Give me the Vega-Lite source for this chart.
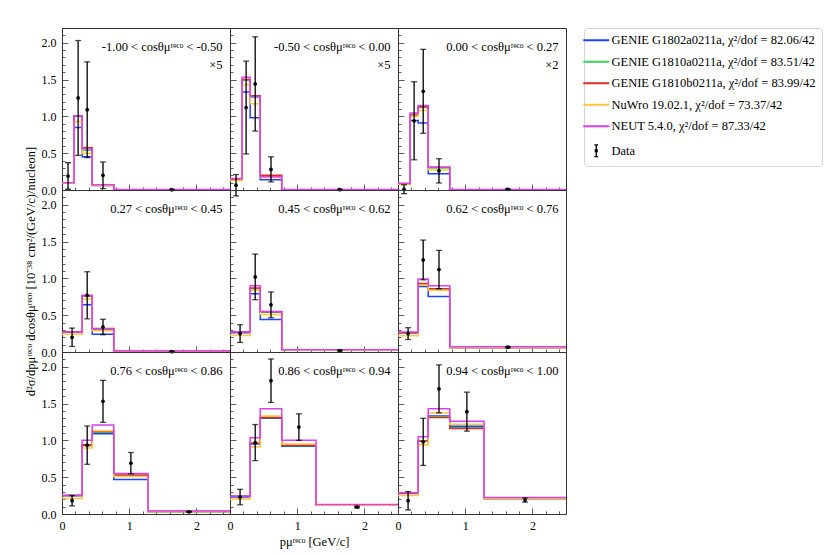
{
  "$schema": "https://vega.github.io/schema/vega-lite/v6.json",
  "padding": {"left": 23, "top": 27, "right": 5, "bottom": 5},
  "background": "white",
  "data": {"values": [
    {"k": "mc", "p": 1, "m": "m1", "e": [0, 0.18, 0.3, 0.45, 0.77, 2.5], "v": [0.09, 0.85, 0.45, 0.06, 0.005, 0.005]},
    {"k": "mc", "p": 1, "m": "m2", "e": [0, 0.18, 0.3, 0.45, 0.77, 2.5], "v": [0.10, 1.00, 0.54, 0.065, 0.005, 0.005]},
    {"k": "mc", "p": 1, "m": "m3", "e": [0, 0.18, 0.3, 0.45, 0.77, 2.5], "v": [0.10, 1.01, 0.575, 0.065, 0.005, 0.005]},
    {"k": "mc", "p": 1, "m": "m4", "e": [0, 0.18, 0.3, 0.45, 0.77, 2.5], "v": [0.09, 0.93, 0.50, 0.06, 0.005, 0.005]},
    {"k": "mc", "p": 1, "m": "m5", "e": [0, 0.18, 0.3, 0.45, 0.77, 2.5], "v": [0.10, 1.01, 0.56, 0.07, 0.006, 0.006]},
    {"k": "mc", "p": 2, "m": "m1", "e": [0, 0.18, 0.3, 0.45, 0.77, 2.5], "v": [0.14, 1.33, 0.98, 0.14, 0.005, 0.005]},
    {"k": "mc", "p": 2, "m": "m2", "e": [0, 0.18, 0.3, 0.45, 0.77, 2.5], "v": [0.15, 1.49, 1.26, 0.19, 0.005, 0.005]},
    {"k": "mc", "p": 2, "m": "m3", "e": [0, 0.18, 0.3, 0.45, 0.77, 2.5], "v": [0.15, 1.50, 1.28, 0.20, 0.005, 0.005]},
    {"k": "mc", "p": 2, "m": "m4", "e": [0, 0.18, 0.3, 0.45, 0.77, 2.5], "v": [0.13, 1.43, 1.17, 0.17, 0.005, 0.005]},
    {"k": "mc", "p": 2, "m": "m5", "e": [0, 0.18, 0.3, 0.45, 0.77, 2.5], "v": [0.155, 1.53, 1.27, 0.18, 0.006, 0.006]},
    {"k": "mc", "p": 3, "m": "m1", "e": [0, 0.18, 0.3, 0.45, 0.77, 2.5], "v": [0.08, 0.945, 0.91, 0.22, 0.005, 0.005]},
    {"k": "mc", "p": 3, "m": "m2", "e": [0, 0.18, 0.3, 0.45, 0.77, 2.5], "v": [0.085, 1.01, 1.12, 0.30, 0.005, 0.005]},
    {"k": "mc", "p": 3, "m": "m3", "e": [0, 0.18, 0.3, 0.45, 0.77, 2.5], "v": [0.085, 1.02, 1.13, 0.31, 0.005, 0.005]},
    {"k": "mc", "p": 3, "m": "m4", "e": [0, 0.18, 0.3, 0.45, 0.77, 2.5], "v": [0.08, 1.00, 1.08, 0.27, 0.005, 0.005]},
    {"k": "mc", "p": 3, "m": "m5", "e": [0, 0.18, 0.3, 0.45, 0.77, 2.5], "v": [0.09, 1.045, 1.146, 0.31, 0.006, 0.006]},
    {"k": "mc", "p": 4, "m": "m1", "e": [0, 0.3, 0.45, 0.77, 2.5], "v": [0.27, 0.64, 0.24, 0.01, 0.01]},
    {"k": "mc", "p": 4, "m": "m2", "e": [0, 0.3, 0.45, 0.77, 2.5], "v": [0.27, 0.76, 0.31, 0.01, 0.01]},
    {"k": "mc", "p": 4, "m": "m3", "e": [0, 0.3, 0.45, 0.77, 2.5], "v": [0.27, 0.765, 0.32, 0.01, 0.01]},
    {"k": "mc", "p": 4, "m": "m4", "e": [0, 0.3, 0.45, 0.77, 2.5], "v": [0.24, 0.72, 0.29, 0.01, 0.01]},
    {"k": "mc", "p": 4, "m": "m5", "e": [0, 0.3, 0.45, 0.77, 2.5], "v": [0.27, 0.77, 0.315, 0.012, 0.012]},
    {"k": "mc", "p": 5, "m": "m1", "e": [0, 0.3, 0.45, 0.77, 2.5], "v": [0.26, 0.79, 0.44, 0.025, 0.025]},
    {"k": "mc", "p": 5, "m": "m2", "e": [0, 0.3, 0.45, 0.77, 2.5], "v": [0.27, 0.86, 0.54, 0.025, 0.025]},
    {"k": "mc", "p": 5, "m": "m3", "e": [0, 0.3, 0.45, 0.77, 2.5], "v": [0.27, 0.87, 0.545, 0.025, 0.025]},
    {"k": "mc", "p": 5, "m": "m4", "e": [0, 0.3, 0.45, 0.77, 2.5], "v": [0.225, 0.84, 0.51, 0.025, 0.025]},
    {"k": "mc", "p": 5, "m": "m5", "e": [0, 0.3, 0.45, 0.77, 2.5], "v": [0.27, 0.90, 0.55, 0.03, 0.03]},
    {"k": "mc", "p": 6, "m": "m1", "e": [0, 0.3, 0.45, 0.77, 2.5], "v": [0.26, 0.89, 0.755, 0.06, 0.06]},
    {"k": "mc", "p": 6, "m": "m2", "e": [0, 0.3, 0.45, 0.77, 2.5], "v": [0.26, 0.92, 0.85, 0.06, 0.06]},
    {"k": "mc", "p": 6, "m": "m3", "e": [0, 0.3, 0.45, 0.77, 2.5], "v": [0.26, 0.93, 0.86, 0.06, 0.06]},
    {"k": "mc", "p": 6, "m": "m4", "e": [0, 0.3, 0.45, 0.77, 2.5], "v": [0.22, 0.91, 0.84, 0.06, 0.06]},
    {"k": "mc", "p": 6, "m": "m5", "e": [0, 0.3, 0.45, 0.77, 2.5], "v": [0.27, 0.99, 0.90, 0.07, 0.07]},
    {"k": "mc", "p": 7, "m": "m1", "e": [0, 0.3, 0.45, 0.77, 1.28, 2.5], "v": [0.25, 0.93, 1.09, 0.47, 0.035, 0.035]},
    {"k": "mc", "p": 7, "m": "m2", "e": [0, 0.3, 0.45, 0.77, 1.28, 2.5], "v": [0.25, 0.94, 1.11, 0.52, 0.035, 0.035]},
    {"k": "mc", "p": 7, "m": "m3", "e": [0, 0.3, 0.45, 0.77, 1.28, 2.5], "v": [0.25, 0.94, 1.12, 0.53, 0.035, 0.035]},
    {"k": "mc", "p": 7, "m": "m4", "e": [0, 0.3, 0.45, 0.77, 1.28, 2.5], "v": [0.21, 0.895, 1.13, 0.51, 0.035, 0.035]},
    {"k": "mc", "p": 7, "m": "m5", "e": [0, 0.3, 0.45, 0.77, 1.28, 2.5], "v": [0.25, 1.0, 1.21, 0.55, 0.04, 0.04]},
    {"k": "mc", "p": 8, "m": "m1", "e": [0, 0.3, 0.45, 0.77, 1.28, 2.5], "v": [0.23, 0.95, 1.30, 0.92, 0.12, 0.12]},
    {"k": "mc", "p": 8, "m": "m2", "e": [0, 0.3, 0.45, 0.77, 1.28, 2.5], "v": [0.24, 0.96, 1.31, 0.93, 0.12, 0.12]},
    {"k": "mc", "p": 8, "m": "m3", "e": [0, 0.3, 0.45, 0.77, 1.28, 2.5], "v": [0.24, 0.96, 1.31, 0.935, 0.12, 0.12]},
    {"k": "mc", "p": 8, "m": "m4", "e": [0, 0.3, 0.45, 0.77, 1.28, 2.5], "v": [0.20, 0.91, 1.33, 0.95, 0.12, 0.12]},
    {"k": "mc", "p": 8, "m": "m5", "e": [0, 0.3, 0.45, 0.77, 1.28, 2.5], "v": [0.24, 1.035, 1.43, 1.0, 0.13, 0.13]},
    {"k": "mc", "p": 9, "m": "m1", "e": [0, 0.3, 0.45, 0.77, 1.28, 2.5], "v": [0.28, 0.99, 1.33, 1.19, 0.21, 0.21]},
    {"k": "mc", "p": 9, "m": "m2", "e": [0, 0.3, 0.45, 0.77, 1.28, 2.5], "v": [0.285, 0.99, 1.32, 1.17, 0.21, 0.21]},
    {"k": "mc", "p": 9, "m": "m3", "e": [0, 0.3, 0.45, 0.77, 1.28, 2.5], "v": [0.285, 0.99, 1.31, 1.16, 0.21, 0.21]},
    {"k": "mc", "p": 9, "m": "m4", "e": [0, 0.3, 0.45, 0.77, 1.28, 2.5], "v": [0.25, 0.94, 1.37, 1.22, 0.21, 0.21]},
    {"k": "mc", "p": 9, "m": "m5", "e": [0, 0.3, 0.45, 0.77, 1.28, 2.5], "v": [0.29, 1.05, 1.43, 1.26, 0.225, 0.225]},
    {"k": "data", "p": 1, "x": 0.09, "y": 0.19, "err": 0.18},
    {"k": "data", "p": 1, "x": 0.24, "y": 1.25, "err": 0.78},
    {"k": "data", "p": 1, "x": 0.375, "y": 1.09, "err": 0.65},
    {"k": "data", "p": 1, "x": 0.61, "y": 0.2, "err": 0.18},
    {"k": "data", "p": 1, "x": 1.635, "y": 0.003, "err": 0.005},
    {"k": "data", "p": 2, "x": 0.09, "y": 0.065, "err": 0.145},
    {"k": "data", "p": 2, "x": 0.24, "y": 1.12, "err": 0.63},
    {"k": "data", "p": 2, "x": 0.375, "y": 1.44, "err": 0.64},
    {"k": "data", "p": 2, "x": 0.61, "y": 0.28, "err": 0.17},
    {"k": "data", "p": 2, "x": 1.635, "y": 0.004, "err": 0.005},
    {"k": "data", "p": 3, "x": 0.09, "y": 0.01, "err": 0.06},
    {"k": "data", "p": 3, "x": 0.24, "y": 0.94, "err": 0.53},
    {"k": "data", "p": 3, "x": 0.375, "y": 1.34, "err": 0.57},
    {"k": "data", "p": 3, "x": 0.61, "y": 0.26, "err": 0.165},
    {"k": "data", "p": 3, "x": 1.635, "y": 0.01, "err": 0.005},
    {"k": "data", "p": 4, "x": 0.15, "y": 0.2, "err": 0.125},
    {"k": "data", "p": 4, "x": 0.375, "y": 0.77, "err": 0.32},
    {"k": "data", "p": 4, "x": 0.61, "y": 0.34, "err": 0.105},
    {"k": "data", "p": 4, "x": 1.635, "y": 0.005, "err": 0.004},
    {"k": "data", "p": 5, "x": 0.15, "y": 0.25, "err": 0.12},
    {"k": "data", "p": 5, "x": 0.375, "y": 1.02, "err": 0.31},
    {"k": "data", "p": 5, "x": 0.61, "y": 0.64, "err": 0.175},
    {"k": "data", "p": 5, "x": 1.635, "y": 0.02, "err": 0.008},
    {"k": "data", "p": 6, "x": 0.15, "y": 0.25, "err": 0.08},
    {"k": "data", "p": 6, "x": 0.375, "y": 1.25, "err": 0.27},
    {"k": "data", "p": 6, "x": 0.61, "y": 1.12, "err": 0.26},
    {"k": "data", "p": 6, "x": 1.635, "y": 0.065, "err": 0.01},
    {"k": "data", "p": 7, "x": 0.15, "y": 0.18, "err": 0.07},
    {"k": "data", "p": 7, "x": 0.375, "y": 0.935, "err": 0.26},
    {"k": "data", "p": 7, "x": 0.61, "y": 1.53, "err": 0.285},
    {"k": "data", "p": 7, "x": 1.025, "y": 0.69, "err": 0.145},
    {"k": "data", "p": 7, "x": 1.89, "y": 0.03, "err": 0.006},
    {"k": "data", "p": 8, "x": 0.15, "y": 0.23, "err": 0.105},
    {"k": "data", "p": 8, "x": 0.375, "y": 0.97, "err": 0.245},
    {"k": "data", "p": 8, "x": 0.61, "y": 1.81, "err": 0.295},
    {"k": "data", "p": 8, "x": 1.025, "y": 1.18, "err": 0.18},
    {"k": "data", "p": 8, "x": 1.89, "y": 0.095, "err": 0.01},
    {"k": "data", "p": 9, "x": 0.15, "y": 0.18, "err": 0.125},
    {"k": "data", "p": 9, "x": 0.375, "y": 0.98, "err": 0.32},
    {"k": "data", "p": 9, "x": 0.61, "y": 1.70, "err": 0.325},
    {"k": "data", "p": 9, "x": 1.025, "y": 1.39, "err": 0.265},
    {"k": "data", "p": 9, "x": 1.89, "y": 0.19, "err": 0.03},
    {"k": "lab", "p": 1, "t": "-1.00 < cosθμʳᵉᶜᵒ < -0.50", "s": "×5"},
    {"k": "lab", "p": 2, "t": "-0.50 < cosθμʳᵉᶜᵒ < 0.00", "s": "×5"},
    {"k": "lab", "p": 3, "t": "0.00 < cosθμʳᵉᶜᵒ < 0.27", "s": "×2"},
    {"k": "lab", "p": 4, "t": "0.27 < cosθμʳᵉᶜᵒ < 0.45", "s": ""},
    {"k": "lab", "p": 5, "t": "0.45 < cosθμʳᵉᶜᵒ < 0.62", "s": ""},
    {"k": "lab", "p": 6, "t": "0.62 < cosθμʳᵉᶜᵒ < 0.76", "s": ""},
    {"k": "lab", "p": 7, "t": "0.76 < cosθμʳᵉᶜᵒ < 0.86", "s": ""},
    {"k": "lab", "p": 8, "t": "0.86 < cosθμʳᵉᶜᵒ < 0.94", "s": ""},
    {"k": "lab", "p": 9, "t": "0.94 < cosθμʳᵉᶜᵒ < 1.00", "s": ""}
  ]},
  "columns": 3,
  "spacing": 0,
  "bounds": "flush",
  "concat": [
    {"width": 168, "height": 162, "transform": [{"filter": "datum.p == 1"}], "resolve": {"axis": {"x": "independent", "y": "independent"}}, "layer": [
      {"transform": [{"filter": "datum.k == 'mc'"}, {"flatten": ["e", "v"]}], "mark": {"type": "line", "interpolate": "step-after", "strokeWidth": 1.5},
        "encoding": {
          "x": {"field": "e", "type": "quantitative", "title": null, "scale": {"domain": [0, 2.5], "nice": false}, "axis": {"orient": "bottom", "values": [0, 1, 2], "tickSize": -6, "labels": false}},
          "y": {"field": "v", "type": "quantitative", "title": null, "scale": {"domain": [0, 2.2], "nice": false}, "axis": {"orient": "left", "values": [0, 0.5, 1, 1.5, 2], "tickSize": -6, "format": ".1f"}},
          "color": {"field": "m", "type": "nominal", "scale": {"domain": ["m1", "m2", "m3", "m4", "m5", "m6"]},
            "legend": {"title": null, "offset": 14, "padding": 6, "cornerRadius": 3, "strokeColor": "#d4d4d4", "symbolType": "stroke", "symbolSize": 676, "symbolStrokeWidth": 2, "labelFontSize": 12.5, "labelOffset": 9, "labelLimit": 400, "rowPadding": 8.5,
              "labelExpr": "datum.value == 'm1' ? 'GENIE G1802a0211a, χ²/dof = 82.06/42' : datum.value == 'm2' ? 'GENIE G1810a0211a, χ²/dof = 83.51/42' : datum.value == 'm3' ? 'GENIE G1810b0211a, χ²/dof = 83.99/42' : datum.value == 'm4' ? 'NuWro 19.02.1, χ²/dof = 73.37/42' : datum.value == 'm5' ? 'NEUT 5.4.0, χ²/dof = 87.33/42' : 'Data'",
              "encode": {"symbols": {"update": {
                "shape": {"signal": "datum.value == 'm6' ? 'M0,-0.45V0.45M-0.15,-0.45H0.15M-0.15,0.45H0.15M-0.07,-0.07H0.07V0.07H-0.07Z' : 'stroke'"},
                "fill": {"signal": "datum.value == 'm6' ? 'black' : 'transparent'"},
                "strokeWidth": {"signal": "datum.value == 'm6' ? 1.3 : 2"}}}}}}
        }},
      {"transform": [{"filter": "datum.k == 'data'"}], "mark": {"type": "errorbar", "color": "black", "thickness": 1.3, "ticks": {"size": 6}},
        "encoding": {"x": {"field": "x", "type": "quantitative", "title": null, "axis": {"orient": "bottom", "values": [0.2, 0.4, 0.6, 0.8, 1.2, 1.4, 1.6, 1.8, 2.2, 2.4], "tickSize": -3, "labels": false}}, "y": {"field": "y", "type": "quantitative", "title": null, "axis": {"orient": "left", "values": [0.1, 0.2, 0.3, 0.4, 0.6, 0.7, 0.8, 0.9, 1.1, 1.2, 1.3, 1.4, 1.6, 1.7, 1.8, 1.9, 2.1, 2.2], "tickSize": -3, "labels": false}}, "yError": {"field": "err"}}},
      {"transform": [{"filter": "datum.k == 'data'"}], "mark": {"type": "circle", "color": "black", "size": 14, "opacity": 1},
        "encoding": {"x": {"field": "x", "type": "quantitative", "axis": null}, "y": {"field": "y", "type": "quantitative", "axis": null}}},
      {"transform": [{"filter": "datum.k == 'lab'"}], "mark": {"type": "text", "align": "right", "baseline": "alphabetic", "fontSize": 12.5},
        "encoding": {"x": {"datum": 2.39, "type": "quantitative", "axis": null}, "y": {"datum": 1.89, "type": "quantitative", "axis": null}, "text": {"field": "t"}}},
      {"transform": [{"filter": "datum.k == 'lab'"}], "mark": {"type": "text", "align": "right", "baseline": "alphabetic", "fontSize": 12.5},
        "encoding": {"x": {"datum": 2.39, "type": "quantitative", "axis": null}, "y": {"datum": 1.64, "type": "quantitative", "axis": null}, "text": {"field": "s"}}}
    ]},
    {"width": 168, "height": 162, "transform": [{"filter": "datum.p == 2"}], "resolve": {"axis": {"x": "independent", "y": "independent"}}, "layer": [
      {"transform": [{"filter": "datum.k == 'mc'"}, {"flatten": ["e", "v"]}], "mark": {"type": "line", "interpolate": "step-after", "strokeWidth": 1.5},
        "encoding": {
          "x": {"field": "e", "type": "quantitative", "title": null, "scale": {"domain": [0, 2.5], "nice": false}, "axis": {"orient": "bottom", "values": [0, 1, 2], "tickSize": -6, "labels": false}},
          "y": {"field": "v", "type": "quantitative", "title": null, "scale": {"domain": [0, 2.2], "nice": false}, "axis": {"orient": "left", "values": [0, 0.5, 1, 1.5, 2], "tickSize": -6, "labels": false}},
          "color": {"field": "m", "type": "nominal", "scale": {"domain": ["m1", "m2", "m3", "m4", "m5", "m6"]}}
        }},
      {"transform": [{"filter": "datum.k == 'data'"}], "mark": {"type": "errorbar", "color": "black", "thickness": 1.3, "ticks": {"size": 6}},
        "encoding": {"x": {"field": "x", "type": "quantitative", "title": null, "axis": {"orient": "bottom", "values": [0.2, 0.4, 0.6, 0.8, 1.2, 1.4, 1.6, 1.8, 2.2, 2.4], "tickSize": -3, "labels": false}}, "y": {"field": "y", "type": "quantitative", "title": null, "axis": {"orient": "left", "values": [0.1, 0.2, 0.3, 0.4, 0.6, 0.7, 0.8, 0.9, 1.1, 1.2, 1.3, 1.4, 1.6, 1.7, 1.8, 1.9, 2.1, 2.2], "tickSize": -3, "labels": false}}, "yError": {"field": "err"}}},
      {"transform": [{"filter": "datum.k == 'data'"}], "mark": {"type": "circle", "color": "black", "size": 14, "opacity": 1},
        "encoding": {"x": {"field": "x", "type": "quantitative", "axis": null}, "y": {"field": "y", "type": "quantitative", "axis": null}}},
      {"transform": [{"filter": "datum.k == 'lab'"}], "mark": {"type": "text", "align": "right", "baseline": "alphabetic", "fontSize": 12.5},
        "encoding": {"x": {"datum": 2.39, "type": "quantitative", "axis": null}, "y": {"datum": 1.89, "type": "quantitative", "axis": null}, "text": {"field": "t"}}},
      {"transform": [{"filter": "datum.k == 'lab'"}], "mark": {"type": "text", "align": "right", "baseline": "alphabetic", "fontSize": 12.5},
        "encoding": {"x": {"datum": 2.39, "type": "quantitative", "axis": null}, "y": {"datum": 1.64, "type": "quantitative", "axis": null}, "text": {"field": "s"}}}
    ]},
    {"width": 168, "height": 162, "transform": [{"filter": "datum.p == 3"}], "resolve": {"axis": {"x": "independent", "y": "independent"}}, "layer": [
      {"transform": [{"filter": "datum.k == 'mc'"}, {"flatten": ["e", "v"]}], "mark": {"type": "line", "interpolate": "step-after", "strokeWidth": 1.5},
        "encoding": {
          "x": {"field": "e", "type": "quantitative", "title": null, "scale": {"domain": [0, 2.5], "nice": false}, "axis": {"orient": "bottom", "values": [0, 1, 2], "tickSize": -6, "labels": false}},
          "y": {"field": "v", "type": "quantitative", "title": null, "scale": {"domain": [0, 2.2], "nice": false}, "axis": {"orient": "left", "values": [0, 0.5, 1, 1.5, 2], "tickSize": -6, "labels": false}},
          "color": {"field": "m", "type": "nominal", "scale": {"domain": ["m1", "m2", "m3", "m4", "m5", "m6"]}}
        }},
      {"transform": [{"filter": "datum.k == 'data'"}], "mark": {"type": "errorbar", "color": "black", "thickness": 1.3, "ticks": {"size": 6}},
        "encoding": {"x": {"field": "x", "type": "quantitative", "title": null, "axis": {"orient": "bottom", "values": [0.2, 0.4, 0.6, 0.8, 1.2, 1.4, 1.6, 1.8, 2.2, 2.4], "tickSize": -3, "labels": false}}, "y": {"field": "y", "type": "quantitative", "title": null, "axis": {"orient": "left", "values": [0.1, 0.2, 0.3, 0.4, 0.6, 0.7, 0.8, 0.9, 1.1, 1.2, 1.3, 1.4, 1.6, 1.7, 1.8, 1.9, 2.1, 2.2], "tickSize": -3, "labels": false}}, "yError": {"field": "err"}}},
      {"transform": [{"filter": "datum.k == 'data'"}], "mark": {"type": "circle", "color": "black", "size": 14, "opacity": 1},
        "encoding": {"x": {"field": "x", "type": "quantitative", "axis": null}, "y": {"field": "y", "type": "quantitative", "axis": null}}},
      {"transform": [{"filter": "datum.k == 'lab'"}], "mark": {"type": "text", "align": "right", "baseline": "alphabetic", "fontSize": 12.5},
        "encoding": {"x": {"datum": 2.39, "type": "quantitative", "axis": null}, "y": {"datum": 1.89, "type": "quantitative", "axis": null}, "text": {"field": "t"}}},
      {"transform": [{"filter": "datum.k == 'lab'"}], "mark": {"type": "text", "align": "right", "baseline": "alphabetic", "fontSize": 12.5},
        "encoding": {"x": {"datum": 2.39, "type": "quantitative", "axis": null}, "y": {"datum": 1.64, "type": "quantitative", "axis": null}, "text": {"field": "s"}}}
    ]},
    {"width": 168, "height": 162, "transform": [{"filter": "datum.p == 4"}], "resolve": {"axis": {"x": "independent", "y": "independent"}}, "layer": [
      {"transform": [{"filter": "datum.k == 'mc'"}, {"flatten": ["e", "v"]}], "mark": {"type": "line", "interpolate": "step-after", "strokeWidth": 1.5},
        "encoding": {
          "x": {"field": "e", "type": "quantitative", "title": null, "scale": {"domain": [0, 2.5], "nice": false}, "axis": {"orient": "bottom", "values": [0, 1, 2], "tickSize": -6, "labels": false}},
          "y": {"field": "v", "type": "quantitative", "title": "d²σ/dpμʳᵉᶜᵒ dcosθμʳᵉᶜᵒ [10⁻³⁸ cm²/(GeV/c)/nucleon]", "scale": {"domain": [0, 2.2], "nice": false}, "axis": {"orient": "left", "values": [0, 0.5, 1, 1.5, 2], "tickSize": -6, "format": ".1f"}},
          "color": {"field": "m", "type": "nominal", "scale": {"domain": ["m1", "m2", "m3", "m4", "m5", "m6"]}}
        }},
      {"transform": [{"filter": "datum.k == 'data'"}], "mark": {"type": "errorbar", "color": "black", "thickness": 1.3, "ticks": {"size": 6}},
        "encoding": {"x": {"field": "x", "type": "quantitative", "title": null, "axis": {"orient": "bottom", "values": [0.2, 0.4, 0.6, 0.8, 1.2, 1.4, 1.6, 1.8, 2.2, 2.4], "tickSize": -3, "labels": false}}, "y": {"field": "y", "type": "quantitative", "title": null, "axis": {"orient": "left", "values": [0.1, 0.2, 0.3, 0.4, 0.6, 0.7, 0.8, 0.9, 1.1, 1.2, 1.3, 1.4, 1.6, 1.7, 1.8, 1.9, 2.1, 2.2], "tickSize": -3, "labels": false}}, "yError": {"field": "err"}}},
      {"transform": [{"filter": "datum.k == 'data'"}], "mark": {"type": "circle", "color": "black", "size": 14, "opacity": 1},
        "encoding": {"x": {"field": "x", "type": "quantitative", "axis": null}, "y": {"field": "y", "type": "quantitative", "axis": null}}},
      {"transform": [{"filter": "datum.k == 'lab'"}], "mark": {"type": "text", "align": "right", "baseline": "alphabetic", "fontSize": 12.5},
        "encoding": {"x": {"datum": 2.39, "type": "quantitative", "axis": null}, "y": {"datum": 1.89, "type": "quantitative", "axis": null}, "text": {"field": "t"}}}
    ]},
    {"width": 168, "height": 162, "transform": [{"filter": "datum.p == 5"}], "resolve": {"axis": {"x": "independent", "y": "independent"}}, "layer": [
      {"transform": [{"filter": "datum.k == 'mc'"}, {"flatten": ["e", "v"]}], "mark": {"type": "line", "interpolate": "step-after", "strokeWidth": 1.5},
        "encoding": {
          "x": {"field": "e", "type": "quantitative", "title": null, "scale": {"domain": [0, 2.5], "nice": false}, "axis": {"orient": "bottom", "values": [0, 1, 2], "tickSize": -6, "labels": false}},
          "y": {"field": "v", "type": "quantitative", "title": null, "scale": {"domain": [0, 2.2], "nice": false}, "axis": {"orient": "left", "values": [0, 0.5, 1, 1.5, 2], "tickSize": -6, "labels": false}},
          "color": {"field": "m", "type": "nominal", "scale": {"domain": ["m1", "m2", "m3", "m4", "m5", "m6"]}}
        }},
      {"transform": [{"filter": "datum.k == 'data'"}], "mark": {"type": "errorbar", "color": "black", "thickness": 1.3, "ticks": {"size": 6}},
        "encoding": {"x": {"field": "x", "type": "quantitative", "title": null, "axis": {"orient": "bottom", "values": [0.2, 0.4, 0.6, 0.8, 1.2, 1.4, 1.6, 1.8, 2.2, 2.4], "tickSize": -3, "labels": false}}, "y": {"field": "y", "type": "quantitative", "title": null, "axis": {"orient": "left", "values": [0.1, 0.2, 0.3, 0.4, 0.6, 0.7, 0.8, 0.9, 1.1, 1.2, 1.3, 1.4, 1.6, 1.7, 1.8, 1.9, 2.1, 2.2], "tickSize": -3, "labels": false}}, "yError": {"field": "err"}}},
      {"transform": [{"filter": "datum.k == 'data'"}], "mark": {"type": "circle", "color": "black", "size": 14, "opacity": 1},
        "encoding": {"x": {"field": "x", "type": "quantitative", "axis": null}, "y": {"field": "y", "type": "quantitative", "axis": null}}},
      {"transform": [{"filter": "datum.k == 'lab'"}], "mark": {"type": "text", "align": "right", "baseline": "alphabetic", "fontSize": 12.5},
        "encoding": {"x": {"datum": 2.39, "type": "quantitative", "axis": null}, "y": {"datum": 1.89, "type": "quantitative", "axis": null}, "text": {"field": "t"}}}
    ]},
    {"width": 168, "height": 162, "transform": [{"filter": "datum.p == 6"}], "resolve": {"axis": {"x": "independent", "y": "independent"}}, "layer": [
      {"transform": [{"filter": "datum.k == 'mc'"}, {"flatten": ["e", "v"]}], "mark": {"type": "line", "interpolate": "step-after", "strokeWidth": 1.5},
        "encoding": {
          "x": {"field": "e", "type": "quantitative", "title": null, "scale": {"domain": [0, 2.5], "nice": false}, "axis": {"orient": "bottom", "values": [0, 1, 2], "tickSize": -6, "labels": false}},
          "y": {"field": "v", "type": "quantitative", "title": null, "scale": {"domain": [0, 2.2], "nice": false}, "axis": {"orient": "left", "values": [0, 0.5, 1, 1.5, 2], "tickSize": -6, "labels": false}},
          "color": {"field": "m", "type": "nominal", "scale": {"domain": ["m1", "m2", "m3", "m4", "m5", "m6"]}}
        }},
      {"transform": [{"filter": "datum.k == 'data'"}], "mark": {"type": "errorbar", "color": "black", "thickness": 1.3, "ticks": {"size": 6}},
        "encoding": {"x": {"field": "x", "type": "quantitative", "title": null, "axis": {"orient": "bottom", "values": [0.2, 0.4, 0.6, 0.8, 1.2, 1.4, 1.6, 1.8, 2.2, 2.4], "tickSize": -3, "labels": false}}, "y": {"field": "y", "type": "quantitative", "title": null, "axis": {"orient": "left", "values": [0.1, 0.2, 0.3, 0.4, 0.6, 0.7, 0.8, 0.9, 1.1, 1.2, 1.3, 1.4, 1.6, 1.7, 1.8, 1.9, 2.1, 2.2], "tickSize": -3, "labels": false}}, "yError": {"field": "err"}}},
      {"transform": [{"filter": "datum.k == 'data'"}], "mark": {"type": "circle", "color": "black", "size": 14, "opacity": 1},
        "encoding": {"x": {"field": "x", "type": "quantitative", "axis": null}, "y": {"field": "y", "type": "quantitative", "axis": null}}},
      {"transform": [{"filter": "datum.k == 'lab'"}], "mark": {"type": "text", "align": "right", "baseline": "alphabetic", "fontSize": 12.5},
        "encoding": {"x": {"datum": 2.39, "type": "quantitative", "axis": null}, "y": {"datum": 1.89, "type": "quantitative", "axis": null}, "text": {"field": "t"}}}
    ]},
    {"width": 168, "height": 162, "transform": [{"filter": "datum.p == 7"}], "resolve": {"axis": {"x": "independent", "y": "independent"}}, "layer": [
      {"transform": [{"filter": "datum.k == 'mc'"}, {"flatten": ["e", "v"]}], "mark": {"type": "line", "interpolate": "step-after", "strokeWidth": 1.5},
        "encoding": {
          "x": {"field": "e", "type": "quantitative", "title": null, "scale": {"domain": [0, 2.5], "nice": false}, "axis": {"orient": "bottom", "values": [0, 1, 2], "tickSize": -6, "format": "d"}},
          "y": {"field": "v", "type": "quantitative", "title": null, "scale": {"domain": [0, 2.2], "nice": false}, "axis": {"orient": "left", "values": [0, 0.5, 1, 1.5, 2], "tickSize": -6, "format": ".1f"}},
          "color": {"field": "m", "type": "nominal", "scale": {"domain": ["m1", "m2", "m3", "m4", "m5", "m6"]}}
        }},
      {"transform": [{"filter": "datum.k == 'data'"}], "mark": {"type": "errorbar", "color": "black", "thickness": 1.3, "ticks": {"size": 6}},
        "encoding": {"x": {"field": "x", "type": "quantitative", "title": null, "axis": {"orient": "bottom", "values": [0.2, 0.4, 0.6, 0.8, 1.2, 1.4, 1.6, 1.8, 2.2, 2.4], "tickSize": -3, "labels": false}}, "y": {"field": "y", "type": "quantitative", "title": null, "axis": {"orient": "left", "values": [0.1, 0.2, 0.3, 0.4, 0.6, 0.7, 0.8, 0.9, 1.1, 1.2, 1.3, 1.4, 1.6, 1.7, 1.8, 1.9, 2.1, 2.2], "tickSize": -3, "labels": false}}, "yError": {"field": "err"}}},
      {"transform": [{"filter": "datum.k == 'data'"}], "mark": {"type": "circle", "color": "black", "size": 14, "opacity": 1},
        "encoding": {"x": {"field": "x", "type": "quantitative", "axis": null}, "y": {"field": "y", "type": "quantitative", "axis": null}}},
      {"transform": [{"filter": "datum.k == 'lab'"}], "mark": {"type": "text", "align": "right", "baseline": "alphabetic", "fontSize": 12.5},
        "encoding": {"x": {"datum": 2.39, "type": "quantitative", "axis": null}, "y": {"datum": 1.89, "type": "quantitative", "axis": null}, "text": {"field": "t"}}}
    ]},
    {"width": 168, "height": 162, "transform": [{"filter": "datum.p == 8"}], "resolve": {"axis": {"x": "independent", "y": "independent"}}, "layer": [
      {"transform": [{"filter": "datum.k == 'mc'"}, {"flatten": ["e", "v"]}], "mark": {"type": "line", "interpolate": "step-after", "strokeWidth": 1.5},
        "encoding": {
          "x": {"field": "e", "type": "quantitative", "title": "pμʳᵉᶜᵒ [GeV/c]", "scale": {"domain": [0, 2.5], "nice": false}, "axis": {"orient": "bottom", "values": [0, 1, 2], "tickSize": -6, "format": "d"}},
          "y": {"field": "v", "type": "quantitative", "title": null, "scale": {"domain": [0, 2.2], "nice": false}, "axis": {"orient": "left", "values": [0, 0.5, 1, 1.5, 2], "tickSize": -6, "labels": false}},
          "color": {"field": "m", "type": "nominal", "scale": {"domain": ["m1", "m2", "m3", "m4", "m5", "m6"]}}
        }},
      {"transform": [{"filter": "datum.k == 'data'"}], "mark": {"type": "errorbar", "color": "black", "thickness": 1.3, "ticks": {"size": 6}},
        "encoding": {"x": {"field": "x", "type": "quantitative", "title": null, "axis": {"orient": "bottom", "values": [0.2, 0.4, 0.6, 0.8, 1.2, 1.4, 1.6, 1.8, 2.2, 2.4], "tickSize": -3, "labels": false}}, "y": {"field": "y", "type": "quantitative", "title": null, "axis": {"orient": "left", "values": [0.1, 0.2, 0.3, 0.4, 0.6, 0.7, 0.8, 0.9, 1.1, 1.2, 1.3, 1.4, 1.6, 1.7, 1.8, 1.9, 2.1, 2.2], "tickSize": -3, "labels": false}}, "yError": {"field": "err"}}},
      {"transform": [{"filter": "datum.k == 'data'"}], "mark": {"type": "circle", "color": "black", "size": 14, "opacity": 1},
        "encoding": {"x": {"field": "x", "type": "quantitative", "axis": null}, "y": {"field": "y", "type": "quantitative", "axis": null}}},
      {"transform": [{"filter": "datum.k == 'lab'"}], "mark": {"type": "text", "align": "right", "baseline": "alphabetic", "fontSize": 12.5},
        "encoding": {"x": {"datum": 2.39, "type": "quantitative", "axis": null}, "y": {"datum": 1.89, "type": "quantitative", "axis": null}, "text": {"field": "t"}}}
    ]},
    {"width": 168, "height": 162, "transform": [{"filter": "datum.p == 9"}], "resolve": {"axis": {"x": "independent", "y": "independent"}}, "layer": [
      {"transform": [{"filter": "datum.k == 'mc'"}, {"flatten": ["e", "v"]}], "mark": {"type": "line", "interpolate": "step-after", "strokeWidth": 1.5},
        "encoding": {
          "x": {"field": "e", "type": "quantitative", "title": null, "scale": {"domain": [0, 2.5], "nice": false}, "axis": {"orient": "bottom", "values": [0, 1, 2], "tickSize": -6, "format": "d"}},
          "y": {"field": "v", "type": "quantitative", "title": null, "scale": {"domain": [0, 2.2], "nice": false}, "axis": {"orient": "left", "values": [0, 0.5, 1, 1.5, 2], "tickSize": -6, "labels": false}},
          "color": {"field": "m", "type": "nominal", "scale": {"domain": ["m1", "m2", "m3", "m4", "m5", "m6"]}}
        }},
      {"transform": [{"filter": "datum.k == 'data'"}], "mark": {"type": "errorbar", "color": "black", "thickness": 1.3, "ticks": {"size": 6}},
        "encoding": {"x": {"field": "x", "type": "quantitative", "title": null, "axis": {"orient": "bottom", "values": [0.2, 0.4, 0.6, 0.8, 1.2, 1.4, 1.6, 1.8, 2.2, 2.4], "tickSize": -3, "labels": false}}, "y": {"field": "y", "type": "quantitative", "title": null, "axis": {"orient": "left", "values": [0.1, 0.2, 0.3, 0.4, 0.6, 0.7, 0.8, 0.9, 1.1, 1.2, 1.3, 1.4, 1.6, 1.7, 1.8, 1.9, 2.1, 2.2], "tickSize": -3, "labels": false}}, "yError": {"field": "err"}}},
      {"transform": [{"filter": "datum.k == 'data'"}], "mark": {"type": "circle", "color": "black", "size": 14, "opacity": 1},
        "encoding": {"x": {"field": "x", "type": "quantitative", "axis": null}, "y": {"field": "y", "type": "quantitative", "axis": null}}},
      {"transform": [{"filter": "datum.k == 'lab'"}], "mark": {"type": "text", "align": "right", "baseline": "alphabetic", "fontSize": 12.5},
        "encoding": {"x": {"datum": 2.39, "type": "quantitative", "axis": null}, "y": {"datum": 1.89, "type": "quantitative", "axis": null}, "text": {"field": "t"}}}
    ]}
  ],
  "config": {
    "font": "Liberation Serif",
    "view": {"stroke": "#333333", "strokeWidth": 1},
    "range": {"category": ["#2040ff", "#33d35a", "#e02a2a", "#ffc83d", "#dc3ef0", "#000000"]},
    "axis": {"domain": false, "grid": false, "tickColor": "#333333", "tickWidth": 0.8, "labelFontSize": 12, "labelColor": "#000000", "labelPadding": 12, "labelFlush": false, "titleFontSize": 12.5, "titleFontWeight": "normal", "titleColor": "#000000"},
    "axisY": {"titlePadding": 4},
    "axisX": {"titlePadding": 4},
    "legend": {"labelFont": "Liberation Serif", "labelColor": "#000000"},
    "text": {"color": "#000000"}
  }
}
